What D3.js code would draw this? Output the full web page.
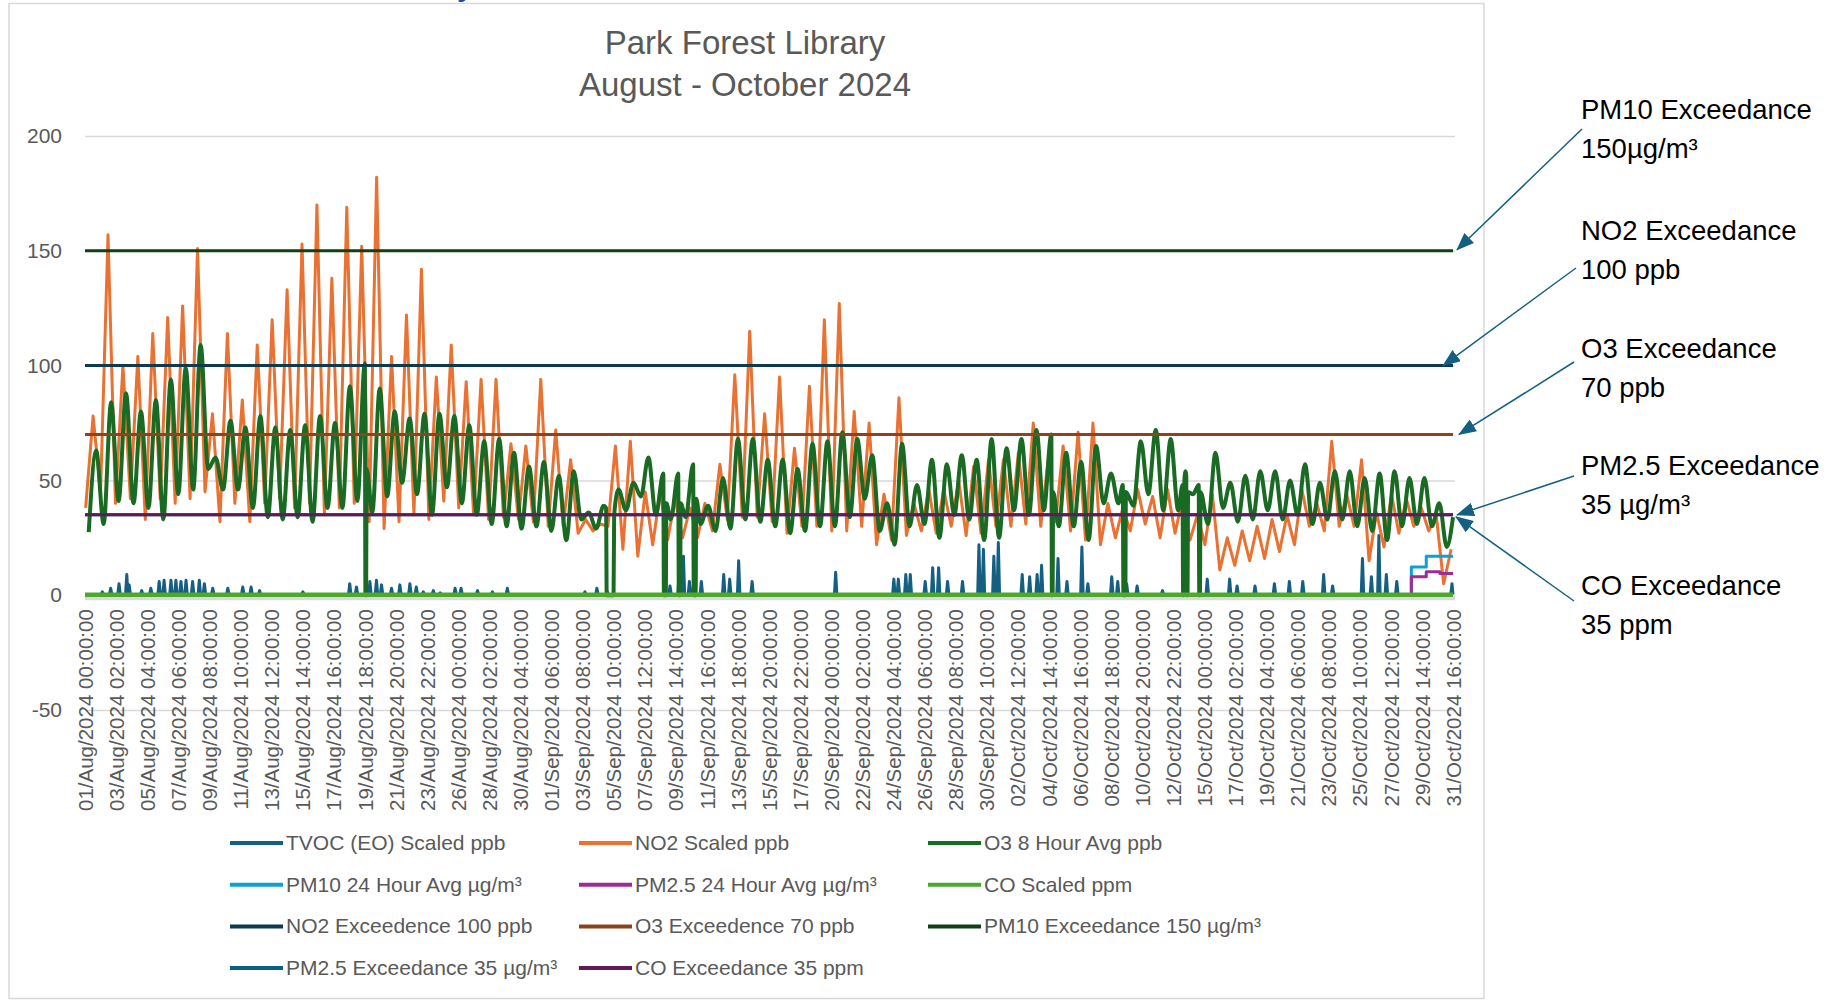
<!DOCTYPE html>
<html>
<head>
<meta charset="utf-8">
<title>Park Forest Library</title>
<script src="https://cdn.jsdelivr.net/npm/d3@7"></script>
<style>
  body { margin: 0; background: #fff; }
  text { font-family: "Liberation Sans", Arial, sans-serif; }
</style>
</head>
<body>
<div id="chart"></div>
<script>
// category labels, one every 50 hourly readings
var tickDates = ["2024-08-01 00:00", "2024-08-03 02:00", "2024-08-05 04:00", "2024-08-07 06:00", "2024-08-09 08:00",
  "2024-08-11 10:00", "2024-08-13 12:00", "2024-08-15 14:00", "2024-08-17 16:00", "2024-08-19 18:00",
  "2024-08-21 20:00", "2024-08-23 22:00", "2024-08-26 00:00", "2024-08-28 02:00", "2024-08-30 04:00",
  "2024-09-01 06:00", "2024-09-03 08:00", "2024-09-05 10:00", "2024-09-07 12:00", "2024-09-09 14:00",
  "2024-09-11 16:00", "2024-09-13 18:00", "2024-09-15 20:00", "2024-09-17 22:00", "2024-09-20 00:00",
  "2024-09-22 02:00", "2024-09-24 04:00", "2024-09-26 06:00", "2024-09-28 08:00", "2024-09-30 10:00",
  "2024-10-02 12:00", "2024-10-04 14:00", "2024-10-06 16:00", "2024-10-08 18:00", "2024-10-10 20:00",
  "2024-10-12 22:00", "2024-10-15 00:00", "2024-10-17 02:00", "2024-10-19 04:00", "2024-10-21 06:00",
  "2024-10-23 08:00", "2024-10-25 10:00", "2024-10-27 12:00", "2024-10-29 14:00", "2024-10-31 16:00"];

var yTicks = [-50, 0, 50, 100, 150, 200];

// NO2 scaled ppb: daily low (~01:00) and daily peak (~13:00), one value per day from 1 Aug
var no2Low = [38, 45, 40, 42, 33, 42, 40, 42, 45, 32,
  40, 32, 40, 42, 38, 40, 35, 38, 40, 32,
  29, 32, 35, 33, 41, 38, 35, 33, 34, 33,
  32, 30, 30, 27, 28, 30, 20, 17, 22, 24,
  25, 25, 28, 33, 34, 34, 32, 27, 30, 30,
  28, 28, 30, 22, 24, 26, 28, 27, 30, 26,
  27, 30, 30, 31, 30, 32, 28, 24, 22, 25,
  28, 31, 25, 27, 24, 22, 11, 13, 15, 16,
  19, 22, 30, 28, 30, 30, 15, 21, 27, 30,
  28, 5];
var no2Peak = [78, 157, 100, 104, 114, 121, 126, 151, 79, 114,
  85, 109, 120, 133, 153, 170, 138, 169, 152, 182,
  104, 122, 142, 95, 109, 93, 94, 94, 66, 65,
  94, 72, 59, 33, 31, 65, 67, 45, 45, 42,
  38, 40, 57, 96, 115, 79, 95, 64, 91, 120,
  127, 80, 75, 44, 86, 40, 46, 46, 50, 56,
  59, 59, 62, 75, 59, 65, 71, 75, 40, 38,
  46, 43, 46, 42, 35, 44, 25, 28, 30, 33,
  35, 46, 40, 67, 44, 59, 36, 44, 42, 38,
  35, 20];

// O3 8 hour avg ppb: daily low (~06:00) and daily peak (~18:00)
var o3Low = [27.5, 31, 41, 40, 38, 33, 44, 46, 55, 46,
  46, 38, 34, 33, 34, 32, 38, 38, 41, 36,
  43, 49, 44, 35, 47, 40, 35, 31, 30, 29,
  30, 28, 24, 33, 29, 38, 37, 43, 35, 33,
  34, 31, 28, 29, 33, 32, 30, 27, 28, 30,
  30, 34, 42, 28, 22, 30, 31, 25, 35, 33,
  24, 25, 37, 35, 37, 30, 30, 24, 40, 40,
  39, 44, 37, 37, 44, 31, 38, 32, 33, 37,
  33, 35, 31, 33, 33, 30, 28, 24, 30, 31,
  30, 21];
var o3Peak = [63, 84, 88, 80, 85, 94, 99, 109, 60, 76,
  73, 78, 73, 72, 74, 78, 75, 91, 101, 90,
  80, 77, 79, 79, 78, 74, 67, 68, 62, 56,
  58, 52, 54, 36, 39, 46, 49, 60, 53, 53,
  57, 39, 51, 68, 68, 59, 59, 55, 66, 67,
  71, 68, 61, 40, 66, 48, 59, 57, 61, 59,
  68, 64, 68, 72, 70, 62, 58, 65, 53, 50,
  67, 72, 68, 54, 50, 62, 49, 52, 54, 54,
  50, 57, 49, 54, 54, 51, 53, 54, 51, 51,
  40, 34];

// O3 readings that dropped to zero
var o3GapStart = ["2024-08-19 19:00", "2024-09-04 23:00", "2024-09-08 19:00", "2024-09-09 19:00", "2024-09-10 19:00",
  "2024-10-04 19:00", "2024-10-09 14:00", "2024-10-13 14:00", "2024-10-13 20:00", "2024-10-14 16:00"];
var o3GapEnd = ["2024-08-19 20:00", "2024-09-05 10:00", "2024-09-08 22:00", "2024-09-09 21:00", "2024-09-10 22:00",
  "2024-10-04 20:00", "2024-10-09 17:00", "2024-10-13 15:00", "2024-10-13 21:00", "2024-10-14 17:00"];
var o3BeforeGap = [101, 38, 53, 53, 57, 70, 48, 48, 52, 48];
var o3AfterGap = [55, 35, 40, 40, 42, 45, 45, 50, 45, 45];

// TVOC (EO) scaled ppb: spikes above a near-zero baseline (day offset from 1 Aug, value)
var tvocBase = 0.3;
var tvocDay = [1.16, 1.72, 2.28, 2.8, 2.96, 3.8, 4.41, 4.97, 5.3, 5.76, 6.09, 6.43, 6.77, 7.21, 7.66, 8.0, 8.56, 9.57,
  10.57, 11.13, 11.7, 14.6, 17.74, 18.19, 19.09, 19.53, 19.87, 20.54, 21.1, 21.77, 22.2, 22.67, 23.34,
  23.8, 24.8, 25.2, 26.3, 27.3, 28.3, 33.5, 34.3, 35.0, 39.2, 39.8, 40.1, 40.5, 40.8, 41.3, 42.8, 43.2, 43.8, 44.7,
  50.3, 54.2, 54.5, 55.0, 55.3, 56.3, 56.8, 57.2, 57.8, 58.8, 59.9, 60.2, 60.9, 61.2, 62.8, 63.3, 63.8, 64.1,
  65.2, 65.8, 66.8, 67.2, 68.8, 69.2, 69.8, 70.5, 72.2, 75.2, 76.7, 77.2, 78.4, 79.7, 80.7, 81.6, 83.0, 83.6,
  85.6, 86.2, 86.7, 87.2, 87.9, 91.6];
var tvocPeak = [1.5, 3, 5, 9, 4.5, 2, 3, 6, 6.5, 6.5, 6.5, 6, 6.5, 6, 6.5, 5, 3, 3,
  3.6, 3.6, 2, 1.5, 5, 3.6, 6, 6.5, 4.5, 3, 4.5, 5, 3.6, 1.5, 2,
  1, 3, 3, 2, 1.5, 3, 1.5, 3, 1.5, 4, 8, 17, 6, 6, 6, 9, 7, 15, 6,
  10, 7, 7, 9, 9, 6, 12, 12, 6, 6, 22, 20, 17, 23, 9, 8, 9, 13,
  16, 6, 21, 5, 8, 6, 5, 4, 2, 7, 7, 4, 4, 5, 6, 6, 9, 4,
  16, 8, 26, 9, 6, 5];

// 24 hour averages (step values)
var pmDates = ["2024-08-01 00:00", "2024-10-28 21:00", "2024-10-29 21:00", "2024-10-30 19:00", "2024-10-31 16:00"];
var pm10Values = [0, 12.3, 17, 17, 17];
var pm25Values = [0, 8, 10.2, 9.4, 9.4];

var coDates = ["2024-08-01 00:00", "2024-10-31 16:00"];
var coValues = [0.2, 0.2];

var exceedValues = [100, 70, 150, 35, 35];

var legendNames = ["TVOC (EO) Scaled ppb", "NO2 Scaled ppb", "O3 8 Hour Avg ppb",
  "PM10 24 Hour Avg µg/m³", "PM2.5 24 Hour Avg µg/m³", "CO Scaled ppm",
  "NO2 Exceedence 100 ppb", "O3 Exceedence 70 ppb", "PM10 Exceedance 150 µg/m³",
  "PM2.5 Exceedance 35 µg/m³", "CO Exceedance 35 ppm"];
var seriesColors = ["#156082", "#E97132", "#196B24", "#0F9ED5", "#A02B93", "#4EA72E",
  "#0D3A4E", "#8C441E", "#0F4016", "#095F80", "#601A58"];

var noteLines = [["PM10 Exceedance", "150µg/m³"], ["NO2 Exceedance", "100 ppb"], ["O3 Exceedance", "70 ppb"],
  ["PM2.5 Exceedance", "35 µg/m³"], ["CO Exceedance", "35 ppm"]];
var noteValues = [150, 100, 70, 35, 35];

var parseTime = d3.utcParse("%Y-%m-%d %H:%M");
var formatTick = d3.utcFormat("%d/%b/%Y %H:%M:%S");
var start = parseTime(tickDates[0]);
var end = parseTime(tickDates[tickDates.length - 1]);

function at(day, hour) {
  return new Date(+start + (day * 24 + hour) * 36e5);
}
function clampEnd(d) {
  return { t: d.t > end ? end : d.t, v: d.v };
}
function byTime(a, b) {
  return a.t - b.t;
}

var svg = d3.select("#chart")
  .append("svg")
  .attr("width", 1842)
  .attr("height", 1000);

// chart frame
svg.append("rect")
  .attr("x", 9)
  .attr("y", 3.5)
  .attr("width", 1475)
  .attr("height", 995)
  .attr("fill", "none")
  .attr("stroke", "#d9d9d9")
  .attr("stroke-width", 1.5);

// cut-off heading above the frame
svg.append("text")
  .attr("x", 457)
  .attr("y", -4)
  .attr("font-size", "30px")
  .attr("font-weight", "bold")
  .attr("fill", "#1f4e9a")
  .text("y");

svg.append("text")
  .attr("x", 745)
  .attr("y", 54)
  .attr("text-anchor", "middle")
  .attr("font-size", "33px")
  .attr("fill", "#595959")
  .text("Park Forest Library");

svg.append("text")
  .attr("x", 745)
  .attr("y", 96)
  .attr("text-anchor", "middle")
  .attr("font-size", "33px")
  .attr("fill", "#595959")
  .text("August - October 2024");

var x = d3.scaleUtc()
  .domain([start, end])
  .range([85, 1453]);

var y = d3.scaleLinear()
  .domain([-50, 200])
  .range([710, 136]);

// gridlines
var grid = svg.append("g")
  .attr("transform", "translate(85,0)")
  .call(d3.axisLeft(y).tickValues(yTicks).tickSize(-1370).tickFormat(""));
grid.select(".domain").remove();
grid.selectAll("line")
  .attr("stroke", "#d9d9d9")
  .attr("stroke-width", 1.5);

svg.append("line")
  .attr("x1", 85)
  .attr("x2", 1455)
  .attr("y1", y(0) + 3)
  .attr("y2", y(0) + 3)
  .attr("stroke", "#d9d9d9")
  .attr("stroke-width", 4);

// Y-Axis
var yAxis = svg.append("g")
  .attr("transform", "translate(70,0)")
  .call(d3.axisLeft(y).tickValues(yTicks).tickSize(0).tickPadding(8)
    .tickFormat(function (d) { return String(d); }));
yAxis.select(".domain").remove();
yAxis.selectAll("text")
  .attr("font-size", "21px")
  .attr("font-family", "'Liberation Sans', Arial, sans-serif")
  .attr("fill", "#595959");

// X-Axis
var xAxis = svg.append("g")
  .attr("transform", "translate(0," + y(0) + ")")
  .call(d3.axisBottom(x).tickValues(tickDates.map(parseTime)).tickSize(0).tickFormat(formatTick));
xAxis.select(".domain").remove();
xAxis.selectAll("text")
  .attr("transform", "rotate(-90)")
  .attr("text-anchor", "end")
  .attr("x", -14)
  .attr("y", 0)
  .attr("dy", "0.35em")
  .attr("font-size", "20.5px")
  .attr("font-family", "'Liberation Sans', Arial, sans-serif")
  .attr("fill", "#595959");

// build series
var tvocSeries = [{ t: start, v: tvocBase }, { t: end, v: tvocBase }];
tvocDay.forEach(function (d, i) {
  var t = +start + d * 864e5;
  tvocSeries.push({ t: new Date(t - 2 * 36e5), v: tvocBase });
  tvocSeries.push({ t: new Date(t), v: tvocPeak[i] });
  tvocSeries.push({ t: new Date(t + 2 * 36e5), v: tvocBase });
});
tvocSeries = tvocSeries.map(clampEnd).sort(byTime);

var no2Series = [];
no2Peak.forEach(function (v, i) {
  no2Series.push({ t: at(i, 1), v: no2Low[i] });
  no2Series.push({ t: at(i, 13), v: v });
});
no2Series = no2Series.map(clampEnd);

var o3Series = [];
o3Peak.forEach(function (v, i) {
  o3Series.push({ t: at(i, 6), v: o3Low[i] });
  o3Series.push({ t: at(i, 18), v: v });
});
o3GapStart.forEach(function (s, i) {
  var t0 = parseTime(s);
  var t1 = parseTime(o3GapEnd[i]);
  var a = new Date(+t0 - 36e5);
  var b = new Date(+t1 + 36e5);
  o3Series = o3Series.filter(function (d) {
    return d.t < a || d.t > b;
  });
  o3Series.push({ t: a, v: o3BeforeGap[i] }, { t: t0, v: 0 }, { t: t1, v: 0 }, { t: b, v: o3AfterGap[i] });
});
o3Series = o3Series.map(clampEnd).sort(byTime);

var pm10Series = pmDates.map(function (s, i) {
  return { t: parseTime(s), v: pm10Values[i] };
});
var pm25Series = pmDates.map(function (s, i) {
  return { t: parseTime(s), v: pm25Values[i] };
});
var coSeries = coDates.map(function (s, i) {
  return { t: parseTime(s), v: coValues[i] };
});

var line = d3.line()
  .x(function (d) { return x(d.t); })
  .y(function (d) { return y(d.v); });

function drawLine(data, color, width, curve) {
  svg.append("path")
    .datum(data)
    .attr("fill", "none")
    .attr("stroke", color)
    .attr("stroke-width", width)
    .attr("stroke-linejoin", "round")
    .attr("d", line.curve(curve || d3.curveLinear));
}

drawLine(tvocSeries, seriesColors[0], 3);
drawLine(no2Series, seriesColors[1], 3);
drawLine(o3Series, seriesColors[2], 4, d3.curveMonotoneX);
drawLine(pm10Series, seriesColors[3], 3, d3.curveStepAfter);
drawLine(pm25Series, seriesColors[4], 3, d3.curveStepAfter);
drawLine(coSeries, seriesColors[5], 4.5);

exceedValues.forEach(function (v, i) {
  drawLine([{ t: start, v: v }, { t: end, v: v }], seriesColors[6 + i], 3);
});

// Legend
var legend = svg.selectAll(".legend")
  .data(legendNames)
  .enter()
  .append("g")
  .attr("class", "legend")
  .attr("transform", function (d, i) {
    return "translate(" + (230 + (i % 3) * 349) + "," + (843 + Math.floor(i / 3) * 41.7) + ")";
  });

legend.append("line")
  .attr("x1", 0)
  .attr("x2", 53)
  .attr("stroke", function (d, i) { return seriesColors[i]; })
  .attr("stroke-width", 4);

legend.append("text")
  .attr("x", 56)
  .attr("y", 7)
  .attr("font-size", "21px")
  .attr("fill", "#595959")
  .text(function (d) { return d; });

// exceedance call-outs
svg.append("defs")
  .append("marker")
  .attr("id", "arrow")
  .attr("markerUnits", "userSpaceOnUse")
  .attr("markerWidth", 18)
  .attr("markerHeight", 14)
  .attr("refX", 17)
  .attr("refY", 7)
  .attr("orient", "auto")
  .append("path")
  .attr("d", "M0,0 L18,7 L0,14 Z")
  .attr("fill", "#156082");

var noteTop = [119, 240, 358, 475, 595];
var arrowFrom = [[1582, 129], [1576, 268], [1574, 362], [1574, 476], [1574, 601]];
var arrowTipX = [1457, 1443, 1459, 1457, 1456];
var arrowTipDy = [-1, 0, 0, 0, 2];

noteLines.forEach(function (lines, i) {
  lines.forEach(function (s, j) {
    svg.append("text")
      .attr("x", 1581)
      .attr("y", noteTop[i] + j * 39)
      .attr("font-size", "27.5px")
      .attr("fill", "#000")
      .text(s);
  });
  svg.append("line")
    .attr("x1", arrowFrom[i][0])
    .attr("y1", arrowFrom[i][1])
    .attr("x2", arrowTipX[i])
    .attr("y2", y(noteValues[i]) + arrowTipDy[i])
    .attr("stroke", "#156082")
    .attr("stroke-width", 1.5)
    .attr("marker-end", "url(#arrow)");
});
</script>
</body>
</html>
